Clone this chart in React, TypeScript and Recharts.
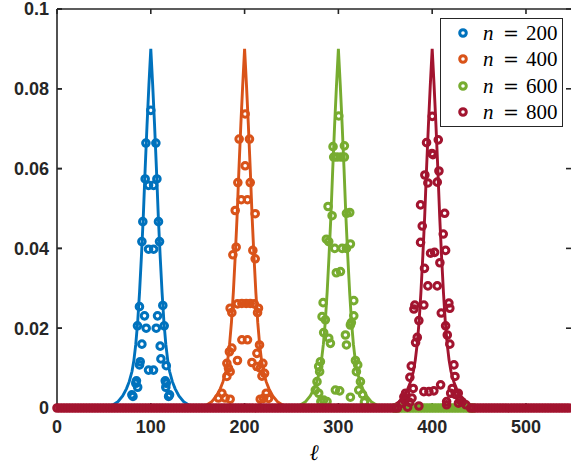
import React from "react"
import { ComposedChart, XAxis, YAxis, Line, Scatter, Legend } from "recharts"

// axis ticks
const xTicks = [0, 100, 200, 300, 400, 500]
const yTicks = [0, 0.02, 0.04, 0.06, 0.08, 0.1]
const xMax = 548
const yTop = 0.1

// series: n values and colours (MATLAB defaults)
const nValues = [200, 400, 600, 800]
const colors = ["#0072BD", "#D95319", "#77AC30", "#A2142F"]

// fitted curves, [l, value]
const line200 = [
  [0, 0], [40, 0], [50, 0.0002], [60, 0.0008], [65, 0.0016], [70, 0.003], [74, 0.0048], [77, 0.0066],
  [80, 0.0092], [82, 0.012], [84, 0.016], [86, 0.0215], [88, 0.029], [90, 0.038], [92, 0.048],
  [94, 0.06], [96, 0.071], [98, 0.081], [100, 0.09], [102, 0.081], [104, 0.071], [106, 0.06],
  [108, 0.048], [110, 0.038], [112, 0.029], [114, 0.0215], [116, 0.016], [118, 0.012], [120, 0.0092],
  [123, 0.0066], [126, 0.0048], [130, 0.003], [135, 0.0016], [140, 0.0008], [150, 0.0002], [160, 0], [548, 0],
]
const line400 = [
  [0, 0], [140, 0], [150, 0.0002], [160, 0.0008], [165, 0.0016], [170, 0.003], [174, 0.0048], [177, 0.0066],
  [180, 0.0092], [182, 0.012], [184, 0.016], [186, 0.0215], [188, 0.029], [190, 0.038], [192, 0.048],
  [194, 0.06], [196, 0.071], [198, 0.081], [200, 0.09], [202, 0.081], [204, 0.071], [206, 0.06],
  [208, 0.048], [210, 0.038], [212, 0.029], [214, 0.0215], [216, 0.016], [218, 0.012], [220, 0.0092],
  [223, 0.0066], [226, 0.0048], [230, 0.003], [235, 0.0016], [240, 0.0008], [250, 0.0002], [260, 0], [548, 0],
]
const line600 = [
  [0, 0], [240, 0], [250, 0.0002], [260, 0.0008], [265, 0.0016], [270, 0.003], [274, 0.0048], [277, 0.0066],
  [280, 0.0092], [282, 0.012], [284, 0.016], [286, 0.0215], [288, 0.029], [290, 0.038], [292, 0.048],
  [294, 0.06], [296, 0.071], [298, 0.081], [300, 0.09], [302, 0.081], [304, 0.071], [306, 0.06],
  [308, 0.048], [310, 0.038], [312, 0.029], [314, 0.0215], [316, 0.016], [318, 0.012], [320, 0.0092],
  [323, 0.0066], [326, 0.0048], [330, 0.003], [335, 0.0016], [340, 0.0008], [350, 0.0002], [360, 0], [548, 0],
]
const line800 = [
  [0, 0], [340, 0], [350, 0.0002], [360, 0.0008], [365, 0.0016], [370, 0.003], [374, 0.0048], [377, 0.0066],
  [380, 0.0092], [382, 0.012], [384, 0.016], [386, 0.0215], [388, 0.029], [390, 0.038], [392, 0.048],
  [394, 0.06], [396, 0.071], [398, 0.081], [400, 0.09], [402, 0.081], [404, 0.071], [406, 0.06],
  [408, 0.048], [410, 0.038], [412, 0.029], [414, 0.0215], [416, 0.016], [418, 0.012], [420, 0.0092],
  [423, 0.0066], [426, 0.0048], [430, 0.003], [435, 0.0016], [440, 0.0008], [450, 0.0002], [460, 0], [548, 0],
]

// measured points, [l, value]
const points200 = [
  [100, 0.0746], [94.8, 0.0664], [105.4, 0.0664], [94, 0.0574], [106.5, 0.0574], [97.6, 0.0558], [103, 0.0558],
  [91.5, 0.0467], [108.2, 0.0467], [90.5, 0.0417], [109.3, 0.0417], [97.6, 0.0398], [103, 0.0398],
  [87.9, 0.0254], [112.8, 0.0257], [93.3, 0.0231], [107.2, 0.0231], [85.8, 0.0206], [95.1, 0.02],
  [105.8, 0.02], [114.3, 0.0206], [90.5, 0.016], [110, 0.0155], [88.7, 0.0116], [88, 0.0108],
  [110.8, 0.0123], [116.5, 0.0106], [97.6, 0.0095], [102.9, 0.0095], [84.7, 0.0068], [84, 0.0062],
  [115.4, 0.0068], [116.5, 0.0062], [86, 0.0052], [116, 0.0052], [79.8, 0.0033], [120, 0.0033],
  [81, 0.0029], [119, 0.0029],
]
const points400 = [
  [200.6, 0.0737], [194.2, 0.0674], [205.2, 0.0674], [200.6, 0.0607], [192.8, 0.0565], [206, 0.0565],
  [196.4, 0.0522], [203.1, 0.0522], [190, 0.0495], [211.3, 0.0487], [191, 0.0403], [187.5, 0.0384],
  [208.8, 0.0395], [211.3, 0.0374], [184.6, 0.025], [186.4, 0.0239], [192.4, 0.0261], [197.1, 0.0262],
  [201.7, 0.0262], [206, 0.0262], [210.3, 0.0261], [214.8, 0.025], [213.8, 0.0239], [197.1, 0.0171],
  [203.1, 0.0171], [186.4, 0.015], [183.8, 0.0141], [215.9, 0.0158], [213.1, 0.0137], [192.4, 0.0119],
  [181.1, 0.0112], [182.8, 0.01], [207.8, 0.0114], [213.1, 0.0104], [219.5, 0.0112], [216.7, 0.01],
  [184.6, 0.0091], [221.3, 0.0087], [181.1, 0.0079], [218.5, 0.008], [175.8, 0.0037], [179.3, 0.0025],
  [172.1, 0.0025], [184.6, 0.0022], [223.1, 0.0037], [220.2, 0.0024], [225.5, 0.0024], [216.7, 0.0022],
]
const points600 = [
  [300.4, 0.0732], [294.3, 0.0655], [306.4, 0.0657], [295, 0.0629], [298.6, 0.0629], [302.8, 0.0629],
  [306.4, 0.0629], [289, 0.0505], [293.3, 0.0482], [308.6, 0.0488], [312.1, 0.049], [287.2, 0.0423],
  [289.7, 0.0417], [296.1, 0.04], [304, 0.04], [308.6, 0.04], [312.8, 0.0411], [297.8, 0.0339],
  [302.2, 0.0342], [283.7, 0.0264], [316.4, 0.0269], [282.6, 0.0229], [286.1, 0.0221], [316.4, 0.0231],
  [312.8, 0.0208], [313.8, 0.0214], [284.3, 0.0189], [289.7, 0.0175], [291.5, 0.0162], [307.5, 0.0183],
  [308.6, 0.0158], [280.8, 0.0116], [279, 0.0104], [280, 0.0091], [318.2, 0.0119], [320.6, 0.0108],
  [319.2, 0.0091], [277.2, 0.0066], [275.4, 0.0045], [279, 0.0037], [323.5, 0.0066], [321.7, 0.0045],
  [296.8, 0.0045], [301.4, 0.0043], [312.8, 0.0027], [284.3, 0.002], [287.9, 0.0016], [325.8, 0.0034],
  [327.8, 0.0015], [281.3, 0.0016],
]
const points800 = [
  [400.1, 0.0731], [394, 0.0665], [406.5, 0.0672], [399.7, 0.0638], [400.8, 0.0635], [392.2, 0.0584],
  [407.2, 0.0594], [395.4, 0.0564], [405.4, 0.0566], [387.6, 0.0509], [413.3, 0.0488], [389.4, 0.0456],
  [411.8, 0.0436], [387.6, 0.0415], [414.3, 0.0395], [398.3, 0.0388], [402.6, 0.039], [408.2, 0.0364],
  [391.8, 0.035], [395.4, 0.0306], [405.4, 0.0306], [381.5, 0.0258], [391.1, 0.0258], [380.5, 0.0248],
  [417.8, 0.0263], [418.8, 0.025], [409.7, 0.0238], [385.8, 0.0219], [414.3, 0.0206], [416.1, 0.0183],
  [384.1, 0.0177], [418.8, 0.016], [382.3, 0.0164], [377.7, 0.0105], [423.2, 0.0108], [376.2, 0.0077],
  [424.3, 0.0079], [379.8, 0.0049], [421.4, 0.0049], [391.1, 0.0041], [396.5, 0.0041], [401.8, 0.0043],
  [409, 0.0058], [419.7, 0.0037], [427.8, 0.0037], [371.6, 0.0037], [369.8, 0.0028], [385.8, 0.0005],
  [415.4, 0.0016], [429.8, 0.002], [378.5, 0.0025], [373.8, 0.0002], [415.4, 0.0008], [424.5, 0.0034],
  [368, 0.0012], [371, 0.0018], [376, 0.0014], [428, 0.0012], [432, 0.0015], [436, 0.0008],
]

// l positions where a series sits on zero (visible ones)
const zeros600 = [
  360, 363, 366, 369, 372, 375, 378, 381, 384, 387, 390, 393, 396, 399, 402, 405, 408, 411, 414, 417,
  420, 423, 426, 429, 432, 435, 438, 441, 444,
]
const zeros800 = [
  0, 3, 6, 9, 12, 15, 18, 21, 24, 27, 30, 33, 36, 39, 42, 45, 48, 51, 54, 57, 60, 63, 66, 69, 72, 75,
  78, 81, 84, 87, 90, 93, 96, 99, 102, 105, 108, 111, 114, 117, 120, 123, 126, 129, 132, 135, 138, 141,
  144, 147, 150, 153, 156, 159, 162, 165, 168, 171, 174, 177, 180, 183, 186, 189, 192, 195, 198, 201,
  204, 207, 210, 213, 216, 219, 222, 225, 228, 231, 234, 237, 240, 243, 246, 249, 252, 255, 258, 261,
  264, 267, 270, 273, 276, 279, 282, 285, 288, 291, 294, 297, 300, 303, 306, 309, 312, 315, 318, 321,
  324, 327, 330, 333, 336, 339, 342, 345, 348, 351, 354, 357, 360, 363,
  441, 444, 447, 450, 453, 456, 459, 462, 465, 468, 471, 474, 477, 480, 483, 486, 489, 492, 495, 498,
  501, 504, 507, 510, 513, 516, 519, 522, 525, 528, 531, 534, 537, 540, 543, 546,
]

const rows = (pairs: number[][]) => pairs.map(([l, v]) => ({ l, v }))
const zeroRows = (ls: number[]) => ls.map((l) => ({ l, v: 0 }))

const lineData = [rows(line200), rows(line400), rows(line600), rows(line800)]
const pointData = [
  rows(points200),
  rows(points400),
  zeroRows(zeros600).concat(rows(points600)),
  zeroRows(zeros800).concat(rows(points800)),
]

const chartMargin = { top: 9, right: 0, bottom: 0, left: 0 }
const axisColor = "#262626"
const tickFont = { fontFamily: "Liberation Sans, Arial, sans-serif", fontWeight: "bold", fontSize: 18, fill: axisColor }
const markerR = 3.3
const markerW = 3
const tickLen = 5

const ring = (color: string) => (p: any) => (
  <circle cx={p.cx} cy={p.cy} r={markerR} fill="none" stroke={color} strokeWidth={markerW} />
)

// x-axis title plus the MATLAB box (top edge, inward ticks on all sides),
// laid out from the x-axis box that Recharts hands to the label
function FrameAndTitle(p: any) {
  const { x, y, width } = p.viewBox
  const top = chartMargin.top
  const h = y - top
  const px = (l: number) => x + (l / xMax) * width
  const py = (v: number) => y - (v / yTop) * h
  const s = { stroke: axisColor, strokeWidth: 1.6 }
  return (
    <g>
      <line x1={x} y1={top} x2={x + width} y2={top} {...s} />
      {xTicks.map((t) => (
        <line key={`t${t}`} x1={px(t)} y1={top} x2={px(t)} y2={top + tickLen} {...s} />
      ))}
      {yTicks.map((v) => (
        <line key={`l${v}`} x1={x} y1={py(v)} x2={x + tickLen} y2={py(v)} {...s} />
      ))}
      {yTicks.map((v) => (
        <line key={`r${v}`} x1={x + width} y1={py(v)} x2={x + width - tickLen} y2={py(v)} {...s} />
      ))}
      <text
        x={x + width / 2}
        y={y + 52}
        textAnchor="middle"
        style={{ fontFamily: "DejaVu Serif, serif", fontStyle: "italic", fontSize: 22, fill: "#000" }}
      >
        ℓ
      </text>
    </g>
  )
}

function LegendBox() {
  return (
    <div style={{ width: 123, height: 109, boxSizing: "border-box", border: `1.6px solid ${axisColor}`, background: "#fff", paddingTop: 1 }}>
      {nValues.map((n, i) => (
        <div key={n} style={{ position: "relative", height: 26.3 }}>
          <svg width={12} height={12} style={{ position: "absolute", left: 16, top: 7 }}>
            <circle cx={6} cy={6} r={markerR} fill="none" stroke={colors[i]} strokeWidth={markerW} />
          </svg>
          <span style={{ position: "absolute", left: 42, top: 0, fontFamily: "Liberation Serif, serif", fontStyle: "italic", fontSize: 21, lineHeight: "26px" }}>n</span>
          <span style={{ position: "absolute", left: 62, top: 0, fontFamily: "DejaVu Serif, serif", fontSize: 19, lineHeight: "26px" }}>=</span>
          <span style={{ position: "absolute", left: 85, top: 0, fontFamily: "Liberation Serif, serif", fontSize: 21, lineHeight: "26px" }}>{n}</span>
        </div>
      ))}
    </div>
  )
}

export default function App() {
  return (
    <div style={{ position: "absolute", left: 0, top: 0, width: 571, height: 466, background: "#fff" }}>
      <ComposedChart width={571} height={466} margin={chartMargin}>
        <XAxis
          dataKey="l"
          type="number"
          domain={[0, xMax]}
          ticks={xTicks}
          interval={0}
          height={58}
          tickSize={-5}
          tickMargin={17}
          stroke={axisColor}
          strokeWidth={1.6}
          tick={tickFont}
          label={{ value: "ℓ", content: (p: any) => <FrameAndTitle {...p} /> }}
        />
        <YAxis
          dataKey="v"
          type="number"
          domain={[0, yTop]}
          ticks={yTicks}
          interval={0}
          width={57}
          tickSize={-5}
          tickMargin={13}
          stroke={axisColor}
          strokeWidth={1.6}
          tick={tickFont}
        />
        <Legend
          layout="horizontal"
          verticalAlign="middle"
          align="center"
          wrapperStyle={{ position: "absolute", left: 440, top: 18, width: 123, height: 109 }}
          content={() => <LegendBox />}
        />
        {nValues.map((n, i) => [
          <Line
            key={`line-${n}`}
            data={lineData[i]}
            dataKey="v"
            type="linear"
            stroke={colors[i]}
            strokeWidth={2.9}
            dot={false}
            activeDot={false}
            legendType="none"
            isAnimationActive={false}
          />,
          <Scatter
            key={`pts-${n}`}
            data={pointData[i]}
            dataKey="v"
            fill={colors[i]}
            shape={ring(colors[i])}
            name={`n = ${n}`}
            isAnimationActive={false}
          />,
        ])}
      </ComposedChart>
    </div>
  )
}
